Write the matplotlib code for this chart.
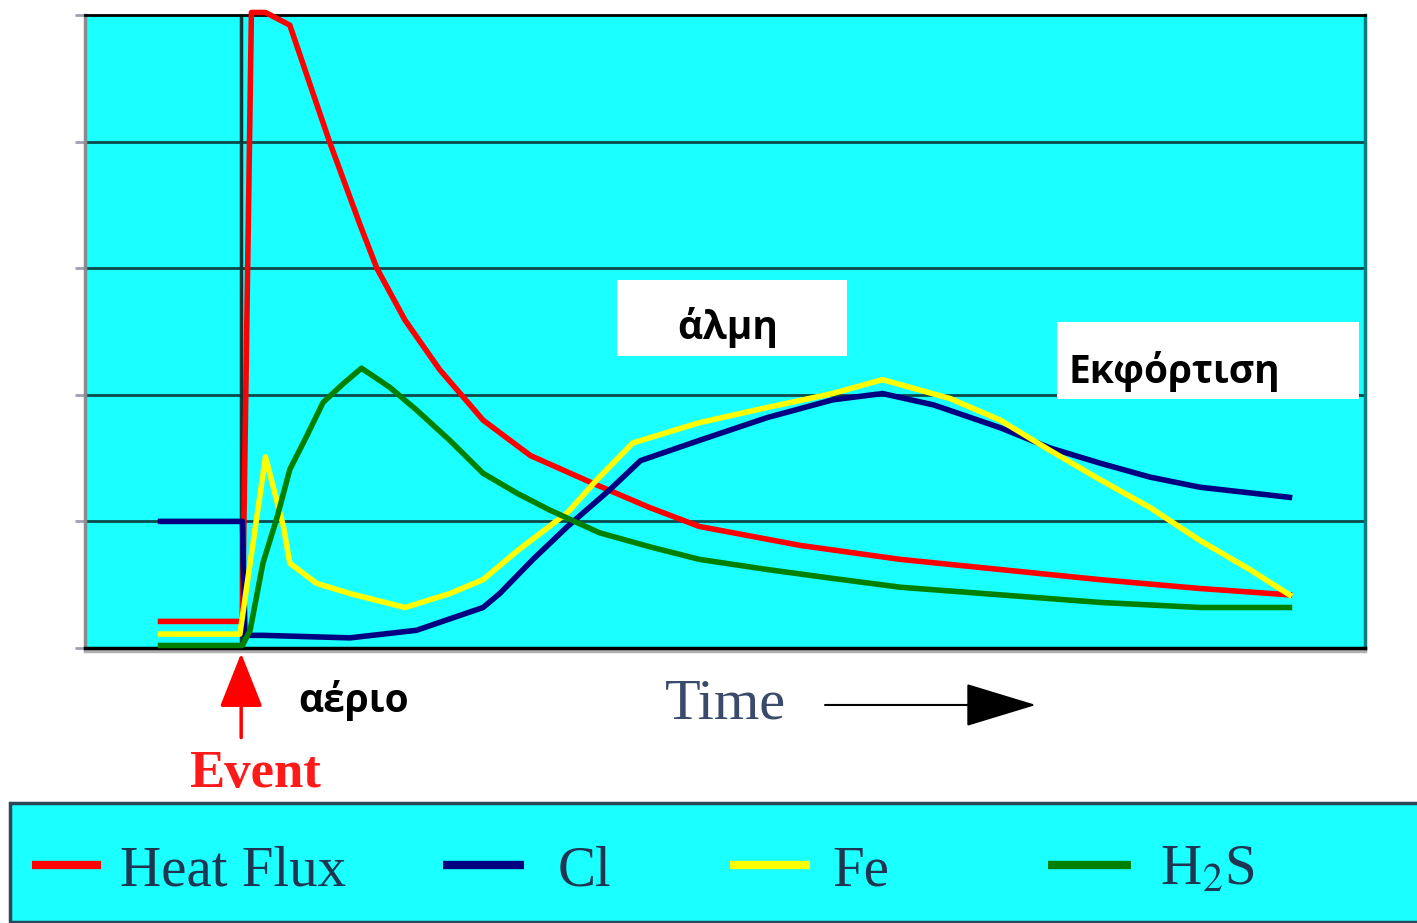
import matplotlib
matplotlib.use("Agg")
import matplotlib.pyplot as plt
from matplotlib.lines import Line2D
from matplotlib.patches import Rectangle

# series (time 0..100, signal 0..5 grid units)
heat_t = [5.9, 12.3, 13.0, 14.1, 16.0, 19.1, 21.5, 22.8, 25.0, 27.7, 31.1, 34.8,
          39.7, 44.1, 48.0, 55.9, 63.7, 71.5, 79.3, 87.1, 94.1]
heat_v = [0.21, 0.21, 5.02, 5.02, 4.92, 4.0, 3.34, 3.0, 2.59, 2.20, 1.80, 1.52,
          1.30, 1.11, 0.96, 0.81, 0.70, 0.62, 0.54, 0.47, 0.42]

cl_t = [5.9, 12.3, 12.5, 13.9, 20.7, 25.9, 31.1, 32.4, 35.0, 37.7, 41.0, 43.4,
        48.0, 53.3, 58.4, 62.3, 66.3, 71.5, 75.4, 79.3, 83.2, 87.1, 94.1]
cl_v = [1.0, 1.0, 0.10, 0.10, 0.08, 0.14, 0.32, 0.43, 0.70, 0.96, 1.25, 1.48,
        1.64, 1.82, 1.96, 2.01, 1.92, 1.74, 1.58, 1.46, 1.35, 1.27, 1.19]

fe_t = [5.9, 12.1, 14.1, 15.5, 16.0, 18.1, 20.7, 25.0, 28.5, 31.1, 33.8, 37.7,
        40.0, 42.8, 48.0, 53.3, 58.4, 62.3, 67.6, 71.5, 75.4, 79.3, 83.2, 87.1,
        91.0, 94.1]
fe_v = [0.11, 0.11, 1.51, 0.96, 0.67, 0.51, 0.43, 0.32, 0.43, 0.54, 0.77, 1.07,
        1.33, 1.62, 1.78, 1.90, 2.01, 2.12, 1.97, 1.80, 1.56, 1.33, 1.11, 0.85,
        0.62, 0.42]

h2s_t = [5.9, 12.3, 12.9, 13.9, 15.0, 16.0, 17.3, 18.6, 20.2, 21.6, 23.8, 25.9,
         28.5, 31.1, 33.8, 36.3, 40.2, 44.1, 48.0, 53.3, 58.4, 63.7, 71.5, 79.3,
         87.1, 94.1]
h2s_v = [0.02, 0.02, 0.14, 0.67, 1.03, 1.41, 1.67, 1.94, 2.09, 2.21, 2.06, 1.88,
         1.64, 1.38, 1.22, 1.09, 0.91, 0.80, 0.70, 0.62, 0.55, 0.48, 0.42, 0.36,
         0.32, 0.32]

labels = ["Heat Flux", "Cl", "Fe", r"H$_2$S"]
colors = ["#ff0000", "#000080", "#ffff00", "#008000"]
event_t = 12.2

CYAN = "#1affff"
SERIF = "Liberation Serif"
GREEK = ["Open Sans", "DejaVu Sans"]
plt.rcParams["mathtext.fontset"] = "stix"

fig = plt.figure(figsize=(14.17, 9.23), dpi=100)
ax = fig.add_axes([85 / 1417, 1 - 648 / 923, 1280 / 1417, 633 / 923])
ax.set_facecolor(CYAN)
ax.set_xlim(0, 100)
ax.set_ylim(0, 5)

for y in range(1, 5):
    ax.axhline(y, color="#0b4a4a", lw=2, zorder=1)
ax.axvline(event_t, color="#0a3838", lw=2.5, zorder=1)

series = [(heat_t, heat_v), (cl_t, cl_v), (fe_t, fe_v), (h2s_t, h2s_v)]
lines = []
for (t, v), c, z in zip(series, colors, [3, 4, 5, 6]):
    ln, = ax.plot(t, v, color=c, lw=4, zorder=z, clip_on=False, solid_joinstyle="round")
    lines.append(ln)

ax.set_xticks([])
ax.set_yticks(range(0, 6))
ax.set_yticklabels([])
ax.tick_params(axis="y", length=7, width=2, color="#a0a0b0")
ax.spines["top"].set_color("black")
ax.spines["top"].set_linewidth(2)
ax.spines["bottom"].set_color("black")
ax.spines["bottom"].set_linewidth(2.5)
ax.spines["left"].set_color("#8a8a8a")
ax.spines["left"].set_linewidth(2.5)
ax.spines["right"].set_color("#0a7a7a")
ax.spines["right"].set_linewidth(2.5)
ax.axhline(-0.025, color="#b0b0b0", lw=2.5, clip_on=False, zorder=0)

# white label boxes
ax.add_patch(Rectangle((41.6, 2.31), 17.9, 0.60, facecolor="white", edgecolor="none", zorder=2))
ax.text(50.2, 2.44, "άλμη", family=GREEK, weight="bold", fontsize=28,
        ha="center", va="baseline", zorder=7)
ax.add_patch(Rectangle((75.9, 1.97), 23.6, 0.605, facecolor="white", edgecolor="none", zorder=2))
ax.text(76.8, 2.09, "Εκφόρτιση", family=GREEK, weight="bold", fontsize=28,
        ha="left", va="baseline", zorder=7)

# below the axes
ax.text(21.0, -0.505, "αέριο", family=GREEK, weight="bold", fontsize=28,
        ha="center", va="baseline")
ax.annotate("", xy=(event_t, -0.02), xytext=(event_t, -0.73),
            arrowprops=dict(arrowstyle="-|>,head_length=34,head_width=13.5",
                            mutation_scale=1, color="#ff0000", lw=2.5),
            annotation_clip=False)
ax.text(13.3, -1.10, "Event", family=SERIF, weight="bold", fontsize=38,
        color="#ff1a1a", ha="center", va="baseline")
ax.text(45.3, -0.553, "Time", family=SERIF, fontsize=42, color="#3a4a6a",
        ha="left", va="baseline")
ax.annotate("", xy=(74.5, -0.45), xytext=(57.6, -0.45),
            arrowprops=dict(arrowstyle="-|>,head_length=46,head_width=14",
                            mutation_scale=1, color="black", lw=1.5),
            annotation_clip=False)

# legend strip, one entry per slot as in the original
fig.patches.append(Rectangle((10 / 1417, 1 / 923), 1420 / 1417, 119 / 923,
                             transform=fig.transFigure, facecolor=CYAN,
                             edgecolor="#2a4858", lw=2.5))
slots = [32, 443, 730, 1048]
hlen = [1.21, 1.42, 1.41, 1.46]
hpad = [0.33, 0.6, 0.39, 0.51]
for ln, lab, x0, hl, hp in zip(lines, labels, slots, hlen, hpad):
    h = Line2D([], [], color=ln.get_color(), lw=6, solid_capstyle="butt")
    fig.legend([h], [lab], loc="center left",
               bbox_to_anchor=(x0 / 1417, 1 - 871 / 923),
               prop={"family": SERIF, "size": 41}, labelcolor="#1f3550",
               handlelength=hl, handletextpad=hp,
               borderaxespad=0, borderpad=0, frameon=False)

fig.savefig("out.png", dpi=100)
